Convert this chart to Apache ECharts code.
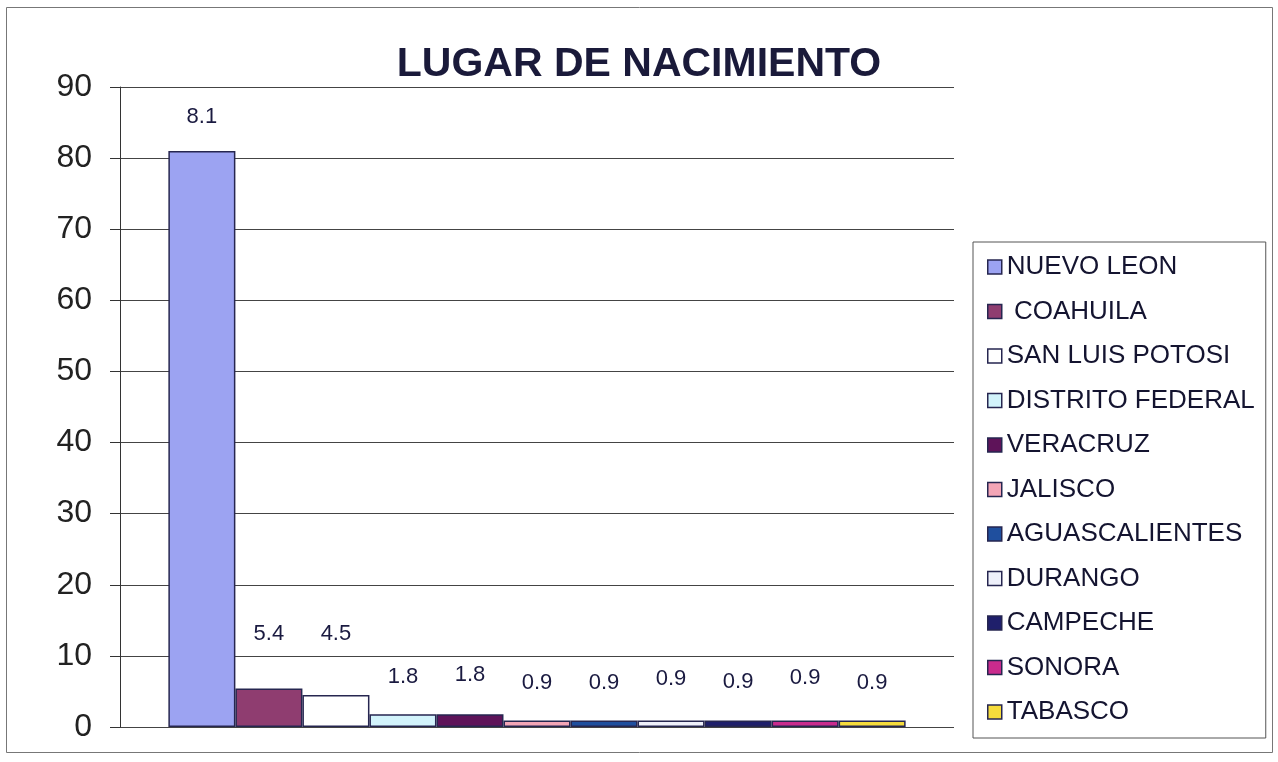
<!DOCTYPE html>
<html>
<head>
<meta charset="utf-8">
<script src="https://cdn.jsdelivr.net/npm/echarts@6/dist/echarts.min.js"></script>
<style>
  html, body { margin: 0; padding: 0; background: #fff; }
  #chart { width: 1278px; height: 762px; }
</style>
</head>
<body>
<div id="chart"></div>
<script type="text/javascript">
  // Lugar de nacimiento
  var states = ['NUEVO LEON', ' COAHUILA', 'SAN LUIS POTOSI', 'DISTRITO FEDERAL', 'VERACRUZ',
    'JALISCO', 'AGUASCALIENTES', 'DURANGO', 'CAMPECHE', 'SONORA', 'TABASCO'];
  var values = [81, 5.4, 4.5, 1.8, 1.8, 0.9, 0.9, 0.9, 0.9, 0.9, 0.9];
  // the labels as printed on the chart (first one reads 8.1 in the original)
  var labels = ['8.1', '5.4', '4.5', '1.8', '1.8', '0.9', '0.9', '0.9', '0.9', '0.9', '0.9'];
  var yTicks = { min: 0, max: 90, interval: 10 };

  var colors = ['#9ca3f2', '#8f3d70', '#ffffff', '#d2f3fb', '#5e1359', '#f3a5b6',
    '#1f4f9e', '#eef0fa', '#1f1f6b', '#c92b8d', '#f6dc3c'];
  var labelLift = [23, 44, 50, 26, 28, 27, 27, 31, 28, 32, 27];

  var myChart = echarts.init(document.getElementById('chart'));

  var seriesList = states.map(function (name, i) {
    return {
      name: name,
      type: 'bar',
      barGap: '0%',
      barCategoryGap: '11.6%',
      data: [values[i]],
      itemStyle: {
        color: colors[i],
        borderColor: '#262650',
        borderWidth: 1.5
      },
      label: {
        show: true,
        position: 'top',
        distance: labelLift[i],
        formatter: function () { return labels[i]; },
        fontFamily: 'Liberation Sans, Arial, sans-serif',
        fontSize: 22,
        color: '#1a1a40'
      }
    };
  });

  var option = {
    animation: false,
    backgroundColor: '#fff',
    title: {
      text: 'LUGAR DE NACIMIENTO',
      left: 'center',
      top: 39,
      textStyle: {
        fontFamily: 'Liberation Sans, Arial, sans-serif',
        fontSize: 41,
        fontWeight: 'bold',
        color: '#1a1a3a'
      }
    },
    graphic: [{
      type: 'rect',
      shape: { x: 6.5, y: 7.5, width: 1266, height: 745 },
      style: { fill: 'none', stroke: '#777', lineWidth: 1 },
      silent: true,
      z: -1
    }],
    legend: {
      orient: 'vertical',
      left: 973,
      top: 242,
      data: states,
      icon: 'rect',
      itemWidth: 14,
      itemHeight: 14,
      itemGap: 18.5,
      padding: [12, 11, 13, 14],
      borderColor: '#555',
      borderWidth: 1,
      itemStyle: { borderColor: '#262650', borderWidth: 1.5 },
      textStyle: {
        fontFamily: 'Liberation Sans, Arial, sans-serif',
        fontSize: 26,
        color: '#141430'
      }
    },
    grid: {
      left: 120,
      right: 324,
      top: 87,
      bottom: 35
    },
    xAxis: {
      type: 'category',
      data: [''],
      axisLine: { show: false },
      axisTick: { show: false },
      axisLabel: { show: false }
    },
    yAxis: {
      type: 'value',
      min: yTicks.min,
      max: yTicks.max,
      interval: yTicks.interval,
      axisLine: { show: true, lineStyle: { color: '#333', width: 1 } },
      axisTick: { show: true, length: 10, lineStyle: { color: '#333' } },
      axisLabel: {
        margin: 28,
        fontFamily: 'Liberation Sans, Arial, sans-serif',
        fontSize: 32,
        color: '#222'
      },
      splitLine: { show: true, lineStyle: { color: '#444', width: 1 } }
    },
    series: seriesList
  };

  myChart.setOption(option);

  window.onresize = function () {
    myChart.resize();
  };
</script>
</body>
</html>
